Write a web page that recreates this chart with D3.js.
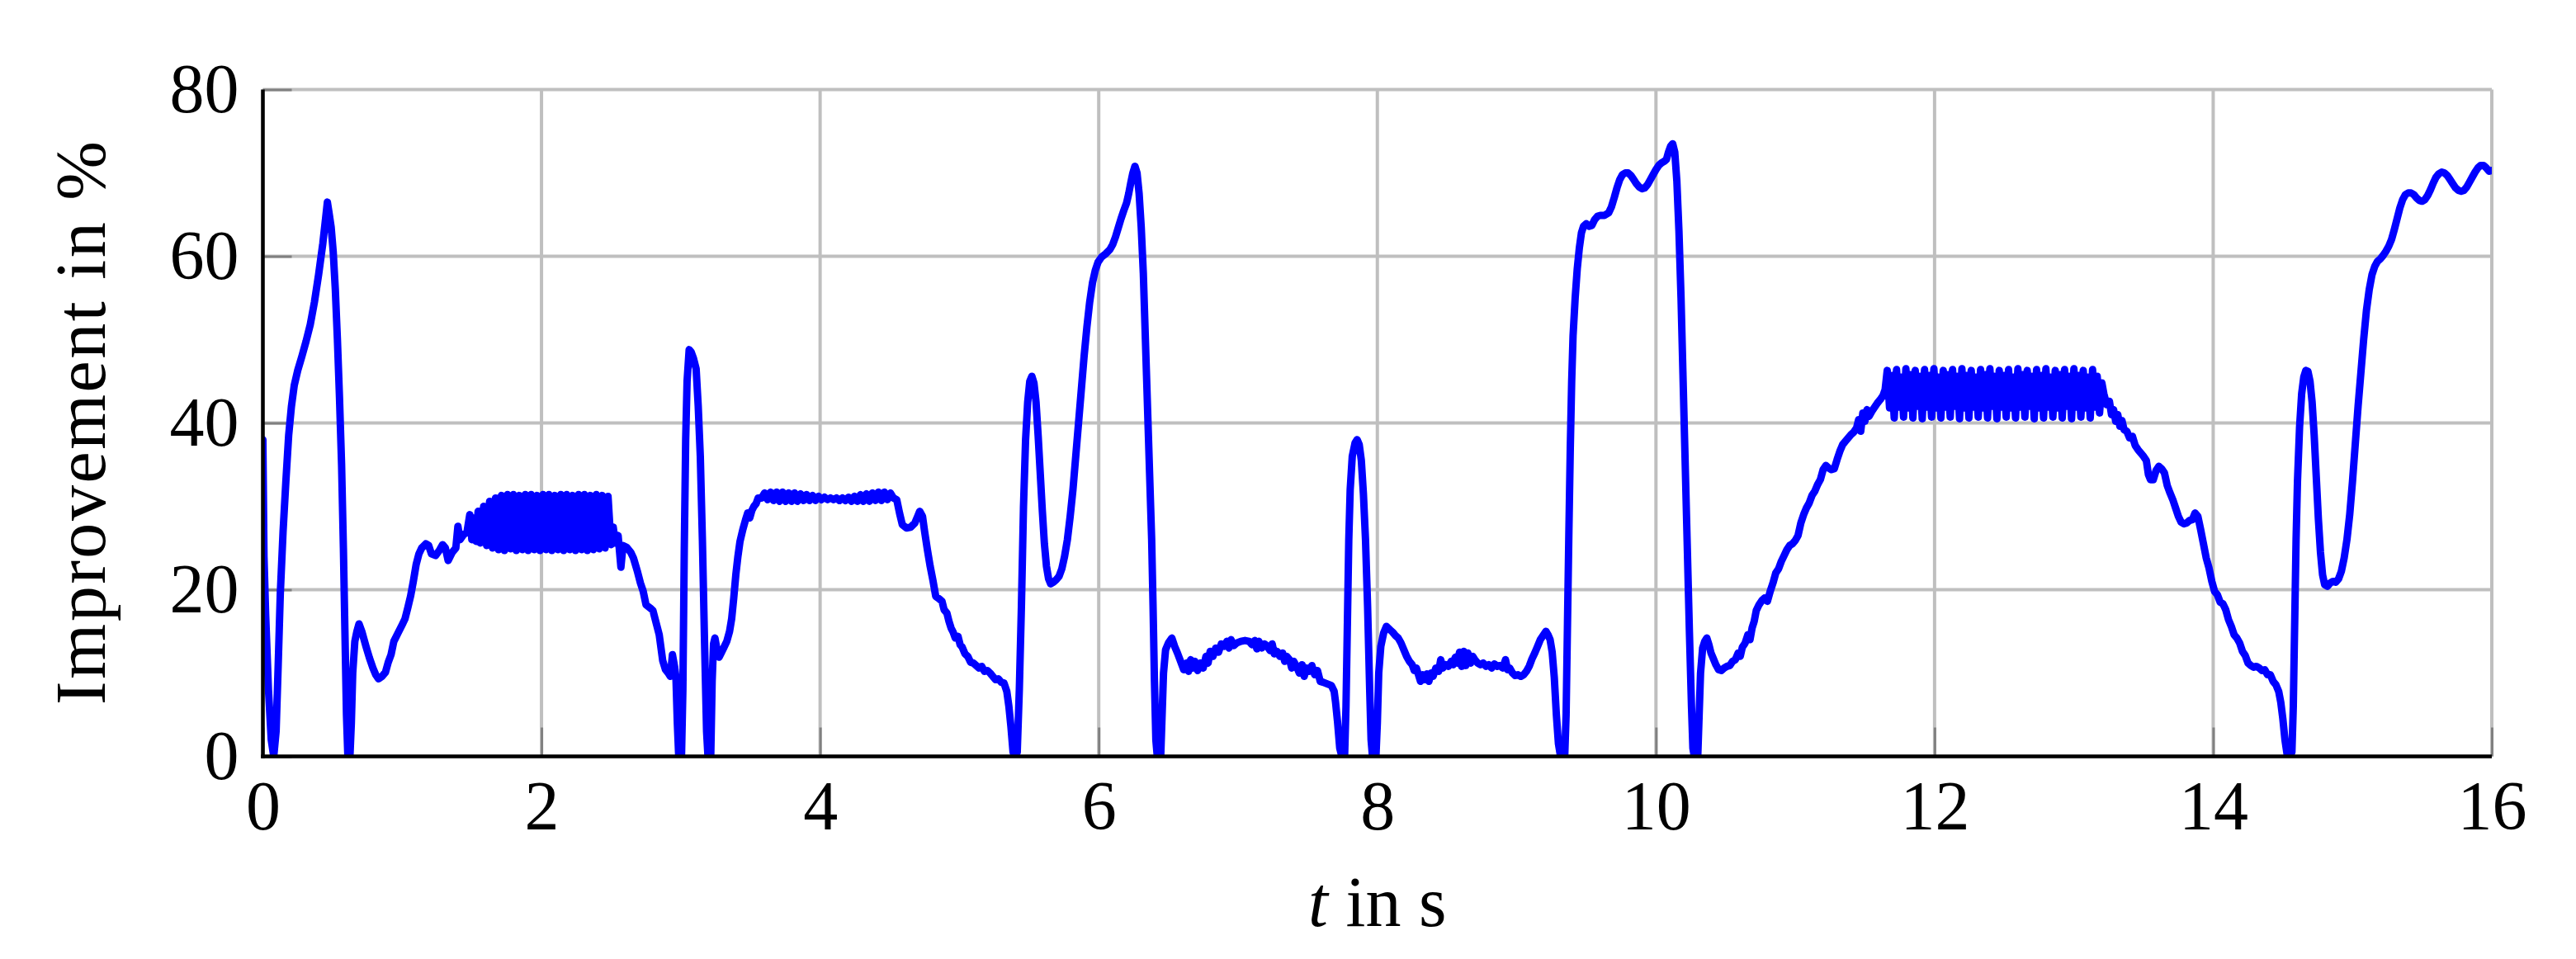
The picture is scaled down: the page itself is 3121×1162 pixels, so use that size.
<!DOCTYPE html>
<html>
<head>
<meta charset="utf-8">
<script src="https://cdn.jsdelivr.net/npm/d3@7"></script>
<style>
html, body { margin: 0; padding: 0; background: #ffffff; overflow: hidden; }
svg { display: block; }
text { font-family: "Liberation Serif", "Times New Roman", serif; fill: #000; }
</style>
</head>
<body>
<svg id="chart" width="3121" height="1162"></svg>
<script>
// ---------------- data ----------------
const xTicks = [0, 2, 4, 6, 8, 10, 12, 14, 16];
const yTicks = [0, 20, 40, 60, 80];
const xLabel = "t";
const xLabelRest = " in s";
const yLabel = "Improvement in %";

// [time s, improvement %]
const traceStart = [
  [0.000, 38.0], [0.008, 24], [0.02, 17], [0.04, 8], [0.06, 2], [0.078, 0], [0.095, 3],
  [0.11, 11], [0.125, 19.5], [0.145, 27], [0.165, 33], [0.185, 38.5], [0.205, 42],
  [0.225, 44.5], [0.25, 46.3], [0.28, 48], [0.31, 49.8], [0.34, 51.8], [0.37, 54.5],
  [0.40, 57.8], [0.43, 61.5], [0.45, 64.5], [0.463, 66.5], [0.475, 65.2], [0.49, 63.5],
  [0.505, 60.5], [0.52, 56], [0.535, 50], [0.55, 43], [0.565, 35], [0.578, 25], [0.59, 14],
  [0.60, 5], [0.61, 0], [0.625, 0], [0.635, 4], [0.645, 10], [0.66, 13.8], [0.675, 15],
  [0.69, 15.9], [0.71, 15], [0.74, 13.2], [0.765, 11.8], [0.79, 10.6], [0.81, 9.8],
  [0.83, 9.3], [0.855, 9.6], [0.88, 10.1], [0.90, 11.3], [0.92, 12.2], [0.94, 13.8],
  [0.97, 14.8], [1.0, 15.8], [1.02, 16.5], [1.04, 17.8], [1.06, 19.2], [1.08, 21],
  [1.10, 23], [1.12, 24.3], [1.14, 25], [1.17, 25.5], [1.19, 25.3], [1.21, 24.3],
  [1.24, 24.1], [1.27, 24.8], [1.29, 25.4], [1.31, 25], [1.33, 23.5], [1.36, 24.5],
  [1.385, 25.0], [1.40, 27.6], [1.415, 26.0], [1.44, 26.6], [1.465, 26.9], [1.485, 29.0],
  [1.50, 26.0], [1.515, 28.6], [1.53, 25.8], [1.545, 29.4], [1.56, 25.6]
];

// first oscillating stretch: evenly sampled values
const burst1Start = 1.585, burst1Step = 0.02125;
const burst1Values = [
  30.0, 25.3, 30.6, 25.0, 31.0, 24.8, 31.3, 24.7, 31.4, 24.9,
  31.4, 24.7, 31.3, 24.8, 31.4, 24.7, 31.4, 24.8, 31.3, 24.7,
  31.4, 24.8, 31.4, 24.7, 31.3, 24.8, 31.4, 24.7, 31.4, 24.8,
  31.3, 24.7, 31.4, 24.8, 31.4, 24.7, 31.3, 24.8, 31.4, 24.9,
  31.3, 25.0, 31.2, 25.4
];

const traceSecond = [
  [2.515, 27.5], [2.53, 25.6], [2.55, 26.5], [2.57, 22.7], [2.585, 25.3], [2.61, 25.1],
  [2.64, 24.5], [2.66, 23.8], [2.69, 22.1], [2.71, 20.8], [2.73, 19.8], [2.75, 18.2],
  [2.78, 17.8], [2.80, 17.5], [2.82, 16.2], [2.845, 14.6], [2.87, 11.5], [2.89, 10.4],
  [2.91, 10.0], [2.925, 9.6], [2.94, 12.2], [2.955, 10.8], [2.965, 9.5], [2.975, 4],
  [2.985, 0], [3.005, 0], [3.015, 8], [3.025, 25], [3.035, 38], [3.045, 45], [3.06, 48.8],
  [3.075, 48.5], [3.09, 47.8], [3.11, 46.5], [3.125, 42], [3.14, 36], [3.155, 26],
  [3.17, 14], [3.185, 3], [3.195, 0], [3.215, 0], [3.225, 9], [3.235, 13.5], [3.245, 14.2],
  [3.26, 12.8], [3.275, 11.9], [3.29, 12.4], [3.31, 13.1], [3.33, 13.8], [3.35, 15],
  [3.365, 16.5], [3.38, 19], [3.395, 21.8], [3.41, 24], [3.425, 25.8], [3.445, 27.2],
  [3.465, 28.4], [3.48, 29.2], [3.495, 28.6], [3.51, 29.5], [3.525, 30], [3.54, 30.3],
  [3.555, 31.0]
];

// plateau ripple around 31 %
const rippleStart = 3.58, rippleStep = 0.0215;
const rippleValues = [
  31.0, 31.6, 30.8, 31.7, 30.7, 31.7, 30.6, 31.7, 30.6, 31.6,
  30.6, 31.6, 30.6, 31.5, 30.7, 31.4, 30.7, 31.3, 30.7, 31.2,
  30.8, 31.1, 30.8, 31.0, 30.8, 31.0, 30.7, 31.0, 30.7, 31.1,
  30.6, 31.2, 30.6, 31.4, 30.6, 31.5, 30.6, 31.6, 30.7, 31.7,
  30.7, 31.7, 30.8, 31.6, 31.0
];

const traceThird = [
  [4.55, 30.8], [4.57, 29.2], [4.59, 27.8], [4.62, 27.4], [4.65, 27.5], [4.68, 28.0],
  [4.70, 28.8], [4.715, 29.4], [4.735, 28.8], [4.75, 27], [4.77, 24.8], [4.79, 22.8],
  [4.81, 21.1], [4.83, 19.2], [4.855, 18.9], [4.875, 18.6], [4.89, 17.6], [4.91, 17.2],
  [4.925, 16.2], [4.94, 15.4], [4.955, 14.9], [4.97, 14.2], [4.99, 14.4], [5.005, 13.4],
  [5.02, 13.1], [5.04, 12.3], [5.06, 12.0], [5.08, 11.3], [5.10, 11.2], [5.12, 10.9],
  [5.14, 10.6], [5.16, 10.8], [5.18, 10.2], [5.20, 10.3], [5.22, 10.0], [5.24, 9.6],
  [5.26, 9.2], [5.28, 9.3], [5.30, 8.9], [5.32, 8.8], [5.34, 7.8], [5.355, 6.0],
  [5.37, 3.5], [5.385, 0.5], [5.40, 0], [5.415, 0.5], [5.43, 8], [5.445, 18], [5.46, 30],
  [5.475, 38], [5.49, 42.5], [5.505, 45], [5.52, 45.6], [5.535, 44.8], [5.55, 42.5],
  [5.565, 38.5], [5.58, 34], [5.595, 29.5], [5.61, 25.5], [5.625, 22.8], [5.64, 21.3],
  [5.655, 20.7], [5.675, 20.9], [5.695, 21.2], [5.715, 21.6], [5.735, 22.5], [5.755, 24.0],
  [5.775, 26], [5.795, 28.8], [5.815, 32], [5.835, 36], [5.855, 40], [5.875, 44],
  [5.895, 48], [5.915, 51.5], [5.935, 54.5], [5.955, 56.8], [5.975, 58.3], [5.995, 59.3],
  [6.02, 59.9], [6.05, 60.3], [6.08, 60.8], [6.10, 61.4], [6.12, 62.3], [6.14, 63.4],
  [6.16, 64.5], [6.18, 65.5], [6.20, 66.4], [6.215, 67.5], [6.23, 68.8], [6.245, 70.0],
  [6.26, 70.8], [6.275, 70.0], [6.29, 67.5], [6.305, 63.5], [6.32, 58], [6.335, 50],
  [6.35, 42], [6.365, 34], [6.38, 26], [6.39, 18], [6.40, 9], [6.41, 2], [6.42, 0],
  [6.445, 0], [6.455, 5], [6.465, 10]
];

const traceFourth = [
  [6.48, 12.8], [6.50, 13.6], [6.525, 14.2], [6.545, 13.2], [6.565, 12.4], [6.59, 11.3],
  [6.61, 10.4], [6.63, 11.2], [6.645, 10.2], [6.66, 11.6], [6.675, 10.6], [6.69, 11.4],
  [6.71, 10.3], [6.73, 11.2], [6.75, 10.6], [6.77, 12.0], [6.785, 11.2], [6.80, 12.6],
  [6.82, 12.0], [6.84, 13.0], [6.86, 12.5], [6.88, 13.5], [6.90, 13.2], [6.92, 13.8],
  [6.935, 13.0], [6.95, 14.0], [6.97, 13.3], [6.99, 13.6], [7.02, 13.8], [7.05, 13.9],
  [7.08, 13.8], [7.10, 13.4], [7.12, 13.9], [7.135, 12.9], [7.15, 13.8], [7.17, 13.0],
  [7.19, 13.5], [7.21, 13.2], [7.23, 12.7], [7.245, 13.5], [7.26, 12.3], [7.28, 12.6],
  [7.30, 12.0], [7.32, 12.4], [7.335, 11.4], [7.35, 12.0], [7.37, 11.6], [7.385, 10.6],
  [7.40, 11.4], [7.42, 10.8], [7.44, 10.0], [7.46, 11.0], [7.475, 9.6], [7.49, 10.6],
  [7.51, 10.2], [7.53, 10.9], [7.55, 9.8], [7.57, 10.3], [7.59, 9.0], [7.61, 8.9],
  [7.64, 8.7], [7.67, 8.5], [7.69, 7.8], [7.70, 6.5], [7.715, 4], [7.73, 1], [7.745, 0],
  [7.765, 0], [7.775, 6], [7.785, 16], [7.795, 26], [7.805, 32], [7.82, 36], [7.84, 37.6],
  [7.855, 38.0], [7.87, 37.4], [7.885, 35.5], [7.90, 31.5], [7.915, 26], [7.93, 18],
  [7.945, 8], [7.955, 2], [7.965, 0], [7.99, 0], [8.00, 4], [8.01, 10], [8.025, 13.2],
  [8.045, 14.8], [8.065, 15.6], [8.09, 15.2], [8.11, 14.9], [8.13, 14.5], [8.15, 14.2],
  [8.17, 13.6], [8.19, 12.8], [8.21, 12.0], [8.23, 11.4], [8.25, 11.0], [8.265, 10.3],
  [8.28, 10.6], [8.295, 9.8], [8.31, 9.0], [8.325, 9.8], [8.34, 9.2], [8.355, 9.9],
  [8.37, 9.0], [8.385, 10.0], [8.40, 9.6], [8.42, 10.6], [8.44, 10.2], [8.455, 11.6],
  [8.47, 10.6], [8.49, 11.0], [8.51, 10.8], [8.53, 11.4], [8.545, 11.0], [8.56, 11.9],
  [8.575, 11.2], [8.59, 12.5], [8.605, 10.8], [8.62, 12.6], [8.635, 10.9], [8.65, 12.4],
  [8.67, 11.2], [8.685, 12.0], [8.70, 11.6], [8.72, 11.2], [8.74, 11.0], [8.76, 11.2],
  [8.78, 10.8], [8.80, 11.0], [8.82, 10.6], [8.84, 11.1], [8.86, 10.8], [8.88, 10.9],
  [8.90, 10.6], [8.92, 11.6], [8.935, 10.4], [8.95, 10.6], [8.97, 10.0], [8.99, 9.7],
  [9.01, 9.8], [9.03, 9.6], [9.05, 9.8], [9.07, 10.2], [9.09, 10.8], [9.11, 11.7],
  [9.13, 12.4], [9.15, 13.2], [9.17, 14.0], [9.19, 14.5], [9.21, 15.0], [9.225, 14.6],
  [9.24, 14.0], [9.255, 12.5], [9.27, 9.5], [9.285, 5], [9.30, 1.5], [9.315, 0], [9.345, 0]
];

const traceFifth = [
  [9.355, 5], [9.365, 16], [9.375, 27], [9.385, 37], [9.395, 45], [9.405, 50.5],
  [9.42, 55], [9.435, 58.5], [9.45, 61], [9.465, 62.8], [9.48, 63.6], [9.50, 63.9],
  [9.52, 63.6], [9.54, 63.7], [9.56, 64.4], [9.58, 64.8], [9.60, 64.9], [9.63, 64.9],
  [9.66, 65.2], [9.68, 65.9], [9.70, 67.0], [9.72, 68.2], [9.74, 69.2], [9.76, 69.8],
  [9.78, 70.0], [9.80, 70.0], [9.82, 69.7], [9.84, 69.2], [9.86, 68.7], [9.88, 68.3],
  [9.90, 68.1], [9.92, 68.2], [9.94, 68.6], [9.96, 69.2], [9.98, 69.8], [10.00, 70.4],
  [10.02, 70.9], [10.04, 71.2], [10.06, 71.4], [10.075, 71.6], [10.09, 72.5], [10.105, 73.2],
  [10.12, 73.5], [10.135, 72.5], [10.15, 69], [10.165, 63], [10.18, 55], [10.195, 45],
  [10.21, 35], [10.225, 25], [10.24, 15], [10.255, 6], [10.265, 1], [10.275, 0], [10.30, 0],
  [10.31, 5], [10.32, 10], [10.335, 13], [10.35, 13.8], [10.365, 14.2], [10.38, 13.4],
  [10.395, 12.4], [10.41, 11.8], [10.43, 11.0], [10.45, 10.4], [10.47, 10.3], [10.49, 10.6],
  [10.51, 10.8], [10.53, 10.9], [10.55, 11.4], [10.57, 11.6], [10.59, 12.4], [10.605, 12.0],
  [10.62, 13.1], [10.64, 13.6], [10.66, 14.6], [10.675, 14.0], [10.69, 15.4], [10.705, 16.2],
  [10.72, 17.5], [10.74, 18.2], [10.76, 18.7], [10.78, 19.0], [10.80, 18.6], [10.82, 19.8],
  [10.84, 20.8], [10.86, 22.0], [10.88, 22.5], [10.90, 23.4], [10.92, 24.1], [10.94, 24.8],
  [10.96, 25.3], [10.98, 25.5], [11.00, 25.9], [11.02, 26.5], [11.04, 28.0], [11.06, 29.0],
  [11.08, 29.8], [11.10, 30.4], [11.12, 31.3], [11.14, 31.8], [11.16, 32.6], [11.18, 33.2],
  [11.20, 34.4], [11.22, 34.9], [11.24, 34.6], [11.26, 34.4], [11.28, 34.5], [11.30, 35.6],
  [11.32, 36.6], [11.34, 37.4], [11.36, 37.8], [11.38, 38.2], [11.40, 38.6], [11.42, 38.9],
  [11.44, 39.4], [11.455, 40.4], [11.47, 39.0], [11.485, 41.2], [11.50, 40.2], [11.515, 41.6],
  [11.53, 40.8], [11.55, 41.4], [11.57, 41.9], [11.59, 42.4], [11.61, 42.8], [11.63, 43.3],
  [11.645, 44.0]
];

// second oscillating stretch: evenly sampled values
const burst2Start = 11.66, burst2Step = 0.01675;
const burst2Values = [
  46.3, 41.8, 45.7, 40.6, 46.4, 41.9, 45.5, 40.7, 46.5, 41.8,
  45.8, 40.6, 46.3, 42.0, 45.6, 40.5, 46.4, 41.9, 45.7, 40.7,
  46.5, 41.8, 45.5, 40.6, 46.3, 41.9, 45.8, 40.7, 46.4, 42.0,
  45.6, 40.5, 46.5, 41.8, 45.7, 40.6, 46.3, 41.9, 45.5, 40.7,
  46.4, 41.8, 45.8, 40.6, 46.5, 42.0, 45.6, 40.5, 46.3, 41.9,
  45.7, 40.7, 46.4, 41.8, 45.5, 40.6, 46.5, 41.9, 45.8, 40.7,
  46.3, 42.0, 45.6, 40.5, 46.4, 41.8, 45.7, 40.6, 46.5, 41.9,
  45.5, 40.7, 46.3, 41.8, 45.8, 40.6, 46.4, 42.0, 45.6, 40.5,
  46.5, 41.9, 45.7, 40.7, 46.3, 41.8, 45.5, 40.6, 46.4, 41.9,
  45.6, 41.2, 44.8
];

const traceEnd = [
  [13.215, 43.5], [13.235, 42.2], [13.255, 42.6], [13.27, 41.0], [13.285, 41.6], [13.30, 40.2],
  [13.315, 41.0], [13.33, 39.6], [13.345, 40.3], [13.36, 39.2], [13.38, 39.0], [13.40, 38.2],
  [13.42, 38.4], [13.44, 37.3], [13.46, 36.8], [13.48, 36.4], [13.50, 36.0], [13.52, 35.5],
  [13.535, 33.8], [13.55, 33.2], [13.57, 33.2], [13.59, 34.3], [13.61, 34.8], [13.63, 34.5],
  [13.65, 34.0], [13.67, 32.5], [13.69, 31.6], [13.71, 30.8], [13.73, 29.8], [13.75, 28.8],
  [13.77, 28.1], [13.79, 27.9], [13.81, 28.0], [13.83, 28.3], [13.85, 28.4], [13.87, 29.2],
  [13.89, 28.8], [13.91, 27.2], [13.93, 25.5], [13.95, 23.8], [13.97, 22.6], [13.99, 21.0],
  [14.01, 19.8], [14.03, 19.4], [14.05, 18.5], [14.07, 18.3], [14.09, 17.6], [14.11, 16.4],
  [14.13, 15.6], [14.15, 14.6], [14.17, 14.2], [14.19, 13.6], [14.21, 12.6], [14.23, 12.1],
  [14.25, 11.2], [14.27, 10.9], [14.29, 10.7], [14.31, 10.8], [14.33, 10.6], [14.35, 10.3],
  [14.37, 10.4], [14.39, 9.8], [14.41, 9.8], [14.43, 9.0], [14.45, 8.6], [14.47, 7.8],
  [14.485, 6.5], [14.50, 4.5], [14.515, 2], [14.53, 0.3], [14.545, 0], [14.565, 0.5],
  [14.575, 6], [14.585, 16], [14.595, 26], [14.605, 33], [14.62, 39.5], [14.635, 43.5],
  [14.65, 45.5], [14.665, 46.3], [14.68, 46.2], [14.695, 45.0], [14.71, 42.5], [14.725, 38.5],
  [14.74, 33.5], [14.755, 28.5], [14.77, 24.5], [14.785, 21.8], [14.80, 20.6], [14.82, 20.4],
  [14.84, 20.8], [14.86, 21.0], [14.88, 20.9], [14.90, 21.3], [14.92, 22.2], [14.94, 23.8],
  [14.96, 26.0], [14.98, 29.0], [15.00, 33.0], [15.02, 37.5], [15.04, 42], [15.06, 46],
  [15.08, 50], [15.10, 53.5], [15.12, 56], [15.14, 57.8], [15.16, 58.8], [15.18, 59.4],
  [15.20, 59.7], [15.22, 60.1], [15.24, 60.6], [15.26, 61.2], [15.28, 62.0], [15.30, 63.2],
  [15.32, 64.5], [15.34, 65.8], [15.36, 66.8], [15.38, 67.4], [15.40, 67.6], [15.42, 67.6],
  [15.44, 67.4], [15.46, 67.0], [15.48, 66.7], [15.50, 66.6], [15.52, 66.8], [15.54, 67.3],
  [15.56, 68.0], [15.58, 68.8], [15.60, 69.5], [15.62, 69.9], [15.64, 70.1], [15.66, 70.0],
  [15.68, 69.7], [15.70, 69.2], [15.72, 68.7], [15.74, 68.2], [15.76, 67.9], [15.78, 67.8],
  [15.80, 67.9], [15.82, 68.3], [15.84, 68.9], [15.86, 69.5], [15.88, 70.1], [15.90, 70.6],
  [15.92, 70.9], [15.94, 70.9], [15.96, 70.6], [15.98, 70.2], [16.00, 70.3]
];

// ---------------- assemble series ----------------
const sampled = (start, step, vals) => vals.map((v, i) => [start + i * step, v]);
const series = [].concat(
  traceStart,
  sampled(burst1Start, burst1Step, burst1Values),
  traceSecond,
  sampled(rippleStart, rippleStep, rippleValues),
  traceThird,
  traceFourth,
  traceFifth,
  sampled(burst2Start, burst2Step, burst2Values),
  traceEnd
);

// ---------------- layout ----------------
const W = 3121, H = 1162;
const plot = { left: 318.5, right: 3019, top: 108.5, bottom: 916.5 };
const x = d3.scaleLinear().domain([0, 16]).range([plot.left, plot.right]);
const y = d3.scaleLinear().domain([0, 80]).range([plot.bottom, plot.top]);

const svg = d3.select("#chart");
svg.append("rect").attr("width", W).attr("height", H).attr("fill", "#ffffff");

// grid
const grid = svg.append("g").attr("class", "grid");
grid.selectAll("line.gx").data(xTicks).join("line")
  .attr("x1", d => x(d)).attr("x2", d => x(d))
  .attr("y1", y(0)).attr("y2", y(80))
  .attr("stroke", "#bfbfbf").attr("stroke-width", 4);
grid.selectAll("line.gy").data(yTicks).join("line")
  .attr("x1", x(0)).attr("x2", x(16))
  .attr("y1", d => y(d)).attr("y2", d => y(d))
  .attr("stroke", "#bfbfbf").attr("stroke-width", 4);

// axes (ticks inside, labels outside)
const fontSize = 84;
const xAxis = svg.append("g")
  .attr("transform", `translate(0,${plot.bottom})`)
  .call(d3.axisBottom(x).tickValues(xTicks).tickFormat(d3.format("d"))
    .tickSizeInner(-35).tickSizeOuter(0).tickPadding(29));
const yAxis = svg.append("g")
  .attr("transform", `translate(${plot.left},0)`)
  .call(d3.axisLeft(y).tickValues(yTicks).tickFormat(d3.format("d"))
    .tickSizeInner(-35).tickSizeOuter(0).tickPadding(29));
[xAxis, yAxis].forEach(g => {
  g.select(".domain").remove();
  g.selectAll(".tick line").attr("stroke", "#808080").attr("stroke-width", 3);
  g.selectAll(".tick text")
    .attr("font-family", "Liberation Serif, serif")
    .attr("font-size", fontSize).attr("fill", "#000");
});

// clipped data line
svg.append("clipPath").attr("id", "plotClip")
  .append("rect")
  .attr("x", plot.left).attr("y", plot.top)
  .attr("width", plot.right - plot.left).attr("height", plot.bottom - plot.top);

const line = d3.line().x(d => x(d[0])).y(d => y(d[1]));
svg.append("path")
  .datum(series)
  .attr("clip-path", "url(#plotClip)")
  .attr("fill", "none")
  .attr("stroke", "#0000ff")
  .attr("stroke-width", 9)
  .attr("stroke-linejoin", "round")
  .attr("stroke-linecap", "round")
  .attr("d", line);

// axis lines (left and bottom, black)
svg.append("line")
  .attr("x1", plot.left).attr("x2", plot.left)
  .attr("y1", plot.top).attr("y2", plot.bottom + 2.25)
  .attr("stroke", "#000").attr("stroke-width", 4.5);
svg.append("line")
  .attr("x1", plot.left - 2.25).attr("x2", plot.right)
  .attr("y1", plot.bottom).attr("y2", plot.bottom)
  .attr("stroke", "#000").attr("stroke-width", 4.5);

// axis titles
const xt = svg.append("text")
  .attr("x", (plot.left + plot.right) / 2).attr("y", 1122)
  .attr("text-anchor", "middle")
  .attr("font-family", "Liberation Serif, serif")
  .attr("font-size", 86);
xt.append("tspan").attr("font-style", "italic").text(xLabel);
xt.append("tspan").text(xLabelRest);

svg.append("text")
  .attr("transform", `translate(127,${(plot.top + plot.bottom) / 2}) rotate(-90)`)
  .attr("text-anchor", "middle")
  .attr("font-family", "Liberation Serif, serif")
  .attr("font-size", 86)
  .attr("textLength", 683)
  .attr("lengthAdjust", "spacing")
  .text(yLabel);
</script>
</body>
</html>
